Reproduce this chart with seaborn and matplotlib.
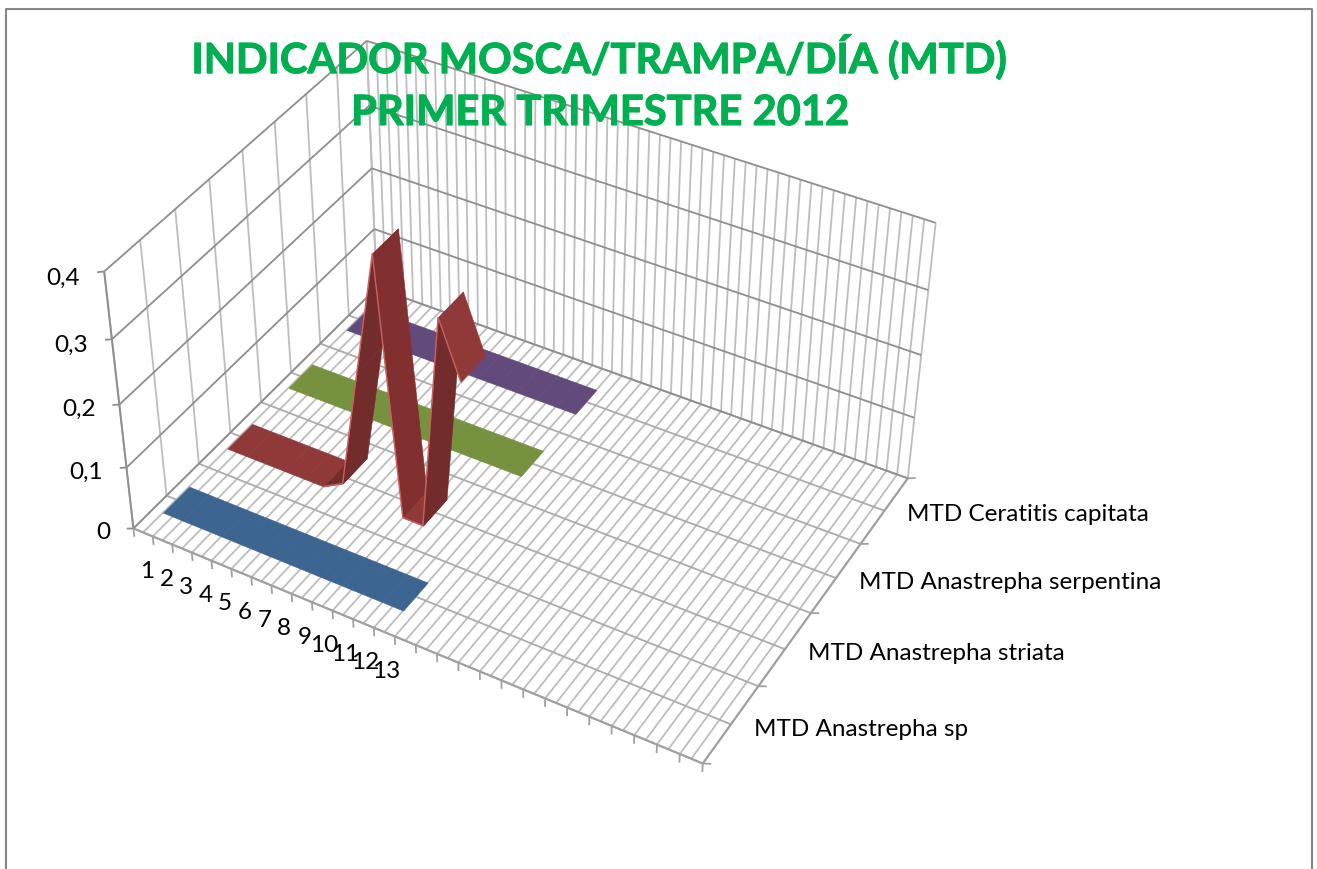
import numpy as np
import matplotlib
matplotlib.use("Agg")
import matplotlib.pyplot as plt
import matplotlib.patheffects as pe
import seaborn as sns
from matplotlib.lines import Line2D
from mpl_toolkits.mplot3d import proj3d
from mpl_toolkits.mplot3d.art3d import Poly3DCollection

categories = [str(i) for i in range(1, 14)]
series_names = ["MTD Anastrepha sp", "MTD Anastrepha striata",
                "MTD Anastrepha serpentina", "MTD Ceratitis capitata"]
anastrepha_sp = [0, 0, 0, 0, 0, 0, 0, 0, 0, 0, 0, 0, 0]
anastrepha_striata = [0, 0, 0, 0, 0, 0, 0.018, 0.21, 0.4, 0, 0, 0.34, 0.255]
anastrepha_serpentina = [0, 0, 0, 0, 0, 0, 0, 0, 0, 0, 0, 0, 0]
ceratitis_capitata = [0, 0, 0, 0, 0, 0, 0, 0, 0, 0, 0, 0, 0]
z_ticks = [0, 0.1, 0.2, 0.3, 0.4]
z_labels = ["0", "0,1", "0,2", "0,3", "0,4"]
n_slots = 27

W, H = 1317, 869
sns.set_theme(style="white")
plt.rcParams["font.family"] = ["Lato", "DejaVu Sans"]
palette = sns.color_palette(["#3D6592", "#8F3A38", "#77923F", "#624B7C"])

fig = plt.figure(figsize=(W / 100, H / 100), dpi=100)
ax = fig.add_axes([0, 0, 1, 1], projection="3d")
ax.set_axis_off()
ax.computed_zorder = False


def seg(p, q, color, lw=1.3, zorder=1):
    ax.plot([p[0], q[0]], [p[1], q[1]], [p[2], q[2]], color=color, lw=lw,
            zorder=zorder, clip_on=False, solid_capstyle="butt")


LIGHT, MID, DARK = "#BDBDBD", "#ABABAB", "#8E8E8E"
top = z_ticks[-1]

# walls and floor, the grid runs at half a category and half a series
for x in np.arange(0, n_slots + 0.01, 0.5):
    seg((x, 4, 0), (x, 4, top), LIGHT)
    seg((x, 0, 0), (x, 4, 0), LIGHT)
for x in range(n_slots + 1):
    seg((x, 0, 0), (x, 0, -0.014), "#A0A0A0")
for y in np.arange(0, 4.01, 0.5):
    seg((0, y, 0), (0, y, top), LIGHT)
    seg((0, y, 0), (n_slots, y, 0), MID, zorder=2)
for z in z_ticks:
    seg((0, 0, z), (0, 4, z), DARK, zorder=2)
    seg((0, 4, z), (n_slots, 4, z), DARK, zorder=2)
    seg((0, 0, z), (-0.36, 0, z - 0.005), DARK)
seg((0, 0, 0), (0, 0, top), DARK, lw=1.4, zorder=3)
seg((0, 0, 0), (n_slots, 0, 0), "#A0A0A0", lw=1.5, zorder=3)
seg((n_slots, 0, 0), (n_slots, 4, 0), "#A0A0A0", lw=1.5, zorder=3)
for y in range(5):
    seg((n_slots, y, 0), (n_slots + 0.36, y, 0.005), "#A0A0A0")

# ribbons, far series first so the nearer ones paint over them
all_series = [anastrepha_sp, anastrepha_striata, anastrepha_serpentina, ceratitis_capitata]
zo = 5
for k in [3, 2, 1, 0]:
    vals = all_series[k]
    y0, y1 = k + 0.3, k + 0.7
    for i in range(len(vals) - 1):
        xa, xb = i + 0.5, i + 1.5
        za, zb = vals[i], vals[i + 1]
        dz = zb - za
        col = palette[k]
        if dz > 0.001:
            col = "#722C2B"
        elif dz < -0.2:
            col = "#812F2F"
        quad = [(xa, y0, za), (xb, y0, zb), (xb, y1, zb), (xa, y1, za)]
        poly = Poly3DCollection([quad], facecolors=[col], edgecolors=[col], linewidths=0.4)
        poly.set_zorder(zo)
        poly.set_clip_on(False)
        ax.add_collection3d(poly)
        if k == 1 and i >= 5:
            seg((xa, y0, za), (xb, y0, zb), "#CC625E", lw=1.0, zorder=zo)
        zo += 1

# fit the camera to where the box corners sit on the page
box_pts = np.array([(0, 0, 0), (0, 0, .4), (0, 4, 0), (0, 4, .2), (0, 4, .4), (27, 0, 0),
                    (14, 0, 0), (27, 1, 0), (27, 2, 0), (27, 3, 0), (27, 4, 0),
                    (27, 4, .2), (27, 4, .4)], dtype=float)
page_pts = np.array([(134, 528), (104, 272), (376, 289), (372, 168), (367, 40), (701, 763),
                     (415, 645), (760, 687), (812, 613), (861.7, 544), (907, 478),
                     (920, 354), (936, 224)], dtype=float)
ax.autoscale(False)
ax.apply_aspect()
uv = ax.transData.inverted().transform(np.c_[page_pts[:, 0], H - page_pts[:, 1]])
rows, rhs = [], []
for (X, Y, Z), (u, v) in zip(box_pts, uv):
    rows.append([X, Y, Z, 1, 0, 0, 0, 0, -u * X, -u * Y, -u * Z])
    rhs.append(u)
    rows.append([0, 0, 0, 0, X, Y, Z, 1, -v * X, -v * Y, -v * Z])
    rhs.append(v)
c = np.linalg.lstsq(np.array(rows), np.array(rhs), rcond=None)[0]
M = np.array([c[:4], c[4:8], [0, -0.001, 0, -0.5], [c[8], c[9], c[10], 1]])
ax.get_proj = lambda: M


def label(x, y, z, s, **kw):
    u, v, _ = proj3d.proj_transform(x, y, z, M)
    ax.text2D(u, v, s, transform=ax.transData, va="center", fontsize=17.5, color="black", **kw)


for z, lab in zip(z_ticks, z_labels):
    label(-1.3, 0, z - 0.024, lab, ha="right")
for i, lab in enumerate(categories):
    label(i + 0.5, 0, -0.066, lab, ha="center")
for k, name in enumerate(series_names):
    label(n_slots + 1, k + 0.5, 0.007, name, ha="left")

# chart frame, open at the bottom
frame = dict(color="#868686", lw=1.5, transform=fig.transFigure)
fx0, fx1, fy = 6 / W, 1312 / W, 1 - 8.5 / H
fig.add_artist(Line2D([fx0, fx0, fx1, fx1], [0, fy, fy, 0], **frame))

thick = [pe.withStroke(linewidth=0.8, foreground="#00B050")]
fig.text(599 / W, 1 - 57 / H, "INDICADOR MOSCA/TRAMPA/DÍA (MTD)", ha="center", va="center",
         fontsize=30, fontweight="bold", color="#00B050", zorder=20, path_effects=thick)
fig.text(600 / W, 1 - 113 / H, "PRIMER TRIMESTRE 2012", ha="center", va="center",
         fontsize=30, fontweight="bold", color="#00B050", zorder=20, path_effects=thick)

fig.savefig("out.png", dpi=100)
plt.close()
